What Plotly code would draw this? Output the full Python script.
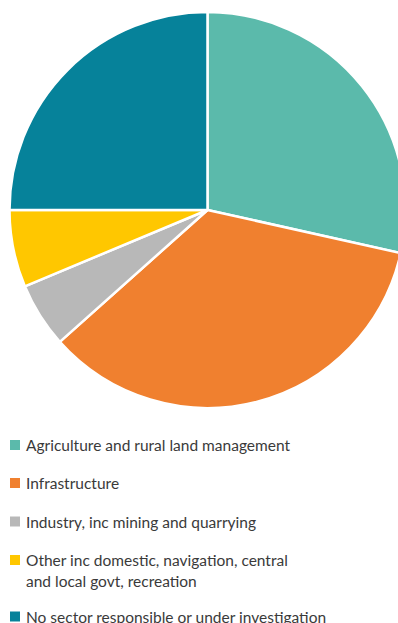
import plotly.graph_objects as go

# ---- data ----
categories = [
    "Agriculture and rural land management",
    "Infrastructure",
    "Industry, inc mining and quarrying",
    "Other inc domestic, navigation, central<br>and local govt, recreation",
    "No sector responsible or under investigation",
]
values = [28.5, 34.9, 5.3, 6.3, 25.0]
colors = ["#5BBAAB", "#F0802F", "#B8B8B8", "#FFC700", "#06829A"]

# ---- layout helpers (pixel -> paper) ----
W, H = 416, 623
def px(x):
    return x / W
def py(y):
    return 1 - y / H

# pie box in pixels
pl, pr, pt, pb = 9.5, 405.5, 12.0, 408.0

fig = go.Figure(
    go.Pie(
        labels=[c.replace("<br>", " ") for c in categories],
        values=values,
        sort=False,
        direction="clockwise",
        rotation=0,
        marker=dict(colors=colors, line=dict(color="white", width=2.5)),
        textinfo="none",
        hoverinfo="label+percent",
        showlegend=False,
        domain=dict(x=[px(pl), px(pr)], y=[py(pb), py(pt)]),
    )
)

legend_y = [445, 483, 521.5, 560, 616.5]
line_gap = 21
font = dict(family="Lato, 'Open Sans', sans-serif", size=15.5, color="#3a3a3a")
shapes = []
annotations = []
for i, (lab, col) in enumerate(zip(categories, colors)):
    yc = legend_y[i]
    shapes.append(dict(
        type="rect", xref="paper", yref="paper",
        x0=px(10), x1=px(20), y0=py(yc + 5), y1=py(yc - 5),
        fillcolor=col, line=dict(width=0),
    ))
    for k, line in enumerate(lab.split("<br>")):
        annotations.append(dict(
            text=line, xref="paper", yref="paper",
            x=px(24), y=py(yc + k * line_gap),
            xanchor="left", yanchor="middle", align="left",
            showarrow=False, font=font,
        ))

fig.update_layout(
    width=W, height=H,
    margin=dict(l=0, r=0, t=0, b=0),
    paper_bgcolor="white", plot_bgcolor="white",
    shapes=shapes, annotations=annotations,
)

fig.write_html("out.html")
